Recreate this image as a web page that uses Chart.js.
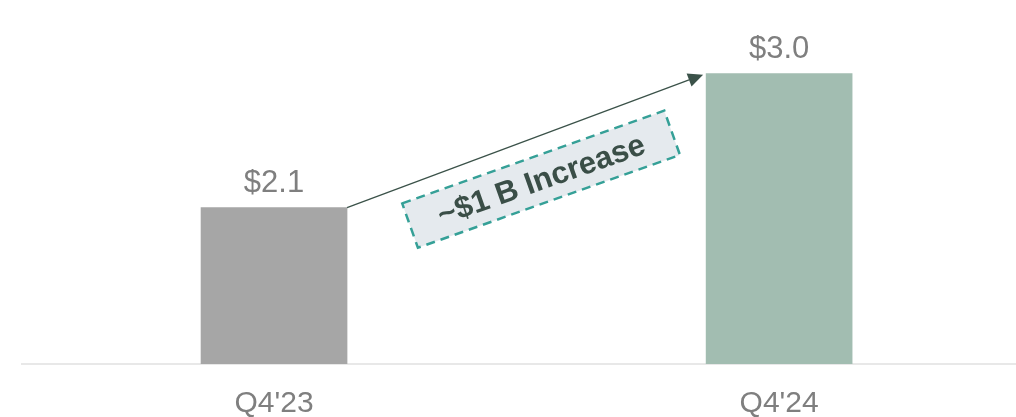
<!DOCTYPE html>
<html>
<head>
<meta charset="utf-8">
<script src="https://cdn.jsdelivr.net/npm/chart.js@4/dist/chart.umd.min.js"></script>
<style>
html,body{margin:0;padding:0;background:#fff;}
#wrap{width:1016px;height:417px;position:relative;}
</style>
</head>
<body>
<div id="wrap"><canvas id="c" width="1016" height="417"></canvas></div>
<script>
const categories = ["Q4'23", "Q4'24"];
const values = [2.1, 3.0];
const valueLabels = ["$2.1", "$3.0"];
const barColors = ["#a6a6a6", "#a2bdb1"];
const annotationText = "~$1 B Increase";

const FONT = "'Liberation Sans', Arial, sans-serif";

const annotPlugin = {
  id: 'annot',
  afterDatasetsDraw(chart) {
    const ctx = chart.ctx;
    const meta = chart.getDatasetMeta(0);
    const bars = meta.data;
    ctx.save();
    // value labels
    ctx.fillStyle = '#7f7f7f';
    ctx.font = '31px ' + FONT;
    ctx.textAlign = 'center';
    ctx.textBaseline = 'alphabetic';
    bars.forEach((b, i) => {
      ctx.fillText(valueLabels[i], b.x, b.y - 16);
    });
    // arrow
    const b1 = bars[0], b2 = bars[1];
    const x1 = b1.x + b1.width / 2, y1 = b1.y;
    const x2 = b2.x - b2.width / 2 - 3, y2 = b2.y + 1;
    const ang = Math.atan2(y2 - y1, x2 - x1);
    const headLen = 15, headHalf = 7;
    ctx.strokeStyle = '#3b5249';
    ctx.fillStyle = '#3b5249';
    ctx.lineWidth = 1.3;
    ctx.beginPath();
    ctx.moveTo(x1, y1);
    ctx.lineTo(x2 - Math.cos(ang) * headLen, y2 - Math.sin(ang) * headLen);
    ctx.stroke();
    ctx.beginPath();
    ctx.moveTo(x2, y2);
    const bx = x2 - Math.cos(ang) * headLen, by = y2 - Math.sin(ang) * headLen;
    ctx.lineTo(bx + Math.sin(ang) * headHalf, by - Math.cos(ang) * headHalf);
    ctx.lineTo(bx - Math.sin(ang) * headHalf, by + Math.cos(ang) * headHalf);
    ctx.closePath();
    ctx.fill();
    // box
    const cx = (x1 + x2) / 2 + 16, cy = (y1 + y2) / 2 + 38;
    ctx.translate(cx, cy);
    ctx.rotate(-19.5 * Math.PI / 180);
    const w = 278, h = 47;
    ctx.fillStyle = '#e5eaee';
    ctx.fillRect(-w / 2, -h / 2, w, h);
    ctx.setLineDash([9, 6]);
    ctx.strokeStyle = '#35a097';
    ctx.lineWidth = 2.5;
    ctx.strokeRect(-w / 2, -h / 2, w, h);
    ctx.setLineDash([]);
    ctx.fillStyle = '#3a4e47';
    ctx.font = 'bold 31px ' + FONT;
    ctx.textAlign = 'center';
    ctx.textBaseline = 'middle';
    ctx.fillText(annotationText, 0, 2);
    ctx.restore();
  }
};

new Chart(document.getElementById('c'), {
  type: 'bar',
  data: {
    datasets: [{
      data: values.map((v, i) => ({ x: i, y: v })),
      backgroundColor: barColors,
      barThickness: 146,
      borderWidth: 0
    }]
  },
  options: {
    responsive: false,
    animation: false,
    layout: { padding: { left: 22, right: 0, top: 0, bottom: 0 } },
    plugins: { legend: { display: false }, tooltip: { enabled: false } },
    scales: {
      x: {
        type: 'linear',
        offset: false,
        min: -0.499,
        max: 1.469,
        afterBuildTicks: s => { s.ticks = categories.map((c, i) => ({ value: i })); },
        afterFit: s => { s.height = 53; },
        grid: { display: false, drawTicks: false, offset: false },
        border: { display: true, color: '#e8e8e8', width: 2 },
        ticks: {
          callback: v => categories[v],
          color: '#7f7f7f',
          font: { family: FONT, size: 30 },
          padding: 22,
          autoSkip: false,
          maxRotation: 0
        }
      },
      y: {
        display: false,
        min: 1.05,
        max: 3.495
      }
    }
  },
  plugins: [annotPlugin]
});
</script>
</body>
</html>
